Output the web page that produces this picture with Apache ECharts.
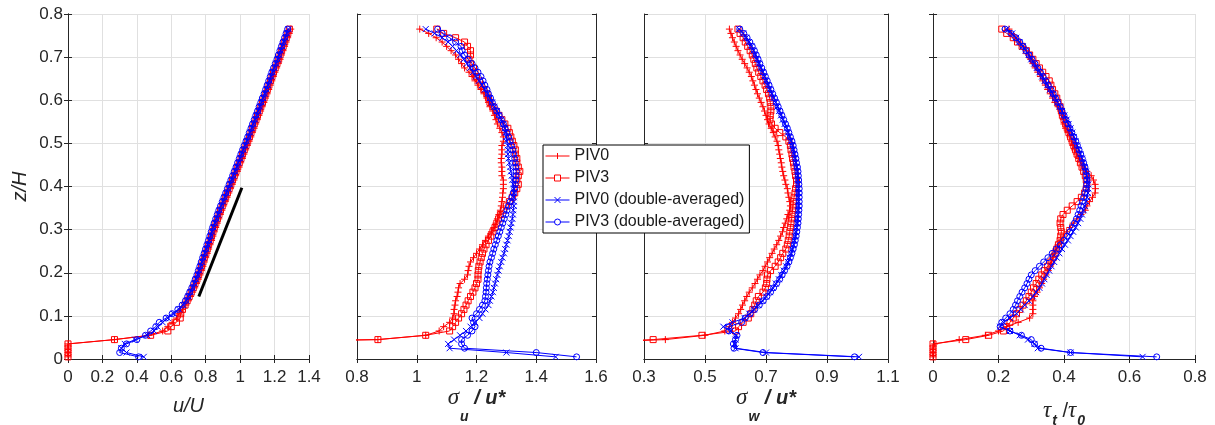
<!DOCTYPE html>
<html>
<head>
<meta charset="utf-8">
<script src="https://cdn.jsdelivr.net/npm/echarts@6/dist/echarts.min.js"></script>
<style>
  html, body { margin: 0; padding: 0; background: #fff; }
  #chart { width: 1215px; height: 425px; }
</style>
</head>
<body>
<div id="chart"></div>
<script>
// z/H levels of the profiles
const zH = [
  0.005, 0.015, 0.025, 0.035, 0.045, 0.055, 0.065, 0.075, 0.085, 0.095,
  0.105, 0.115, 0.125, 0.135, 0.145, 0.155, 0.165, 0.175, 0.185, 0.195,
  0.205, 0.215, 0.225, 0.235, 0.245, 0.255, 0.265, 0.275, 0.285, 0.295,
  0.305, 0.315, 0.325, 0.335, 0.345, 0.355, 0.365, 0.375, 0.385, 0.395,
  0.405, 0.415, 0.425, 0.435, 0.445, 0.455, 0.465, 0.475, 0.485, 0.495,
  0.505, 0.515, 0.525, 0.535, 0.545, 0.555, 0.565, 0.575, 0.585, 0.595,
  0.605, 0.615, 0.625, 0.635, 0.645, 0.655, 0.665, 0.675, 0.685, 0.695,
  0.705, 0.715, 0.725, 0.735, 0.745, 0.755, 0.765
];

const seriesNames = ['PIV0', 'PIV3', 'PIV0 (double-averaged)', 'PIV3 (double-averaged)'];

// u/U
const uPIV0 = [
  0, 0, 0, 0, 0.27, 0.47, 0.55, 0.58, 0.605, 0.63,
  0.645, 0.665, 0.685, 0.7, 0.712, 0.724, 0.736, 0.746, 0.757, 0.767,
  0.775, 0.784, 0.792, 0.8, 0.809, 0.817, 0.825, 0.834, 0.842, 0.85,
  0.858, 0.867, 0.876, 0.885, 0.894, 0.904, 0.914, 0.924, 0.934, 0.944,
  0.954, 0.964, 0.974, 0.984, 0.994, 1.003, 1.013, 1.022, 1.032, 1.042,
  1.052, 1.062, 1.071, 1.081, 1.09, 1.1, 1.109, 1.119, 1.128, 1.138,
  1.147, 1.157, 1.166, 1.175, 1.184, 1.193, 1.202, 1.212, 1.222, 1.232,
  1.24, 1.249, 1.258, 1.267, 1.276, 1.285, 1.294
];
const uPIV3 = [
  0, 0, 0, 0, 0.27, 0.48, 0.58, 0.6, 0.63, 0.652,
  0.655, 0.665, 0.68, 0.692, 0.704, 0.716, 0.728, 0.738, 0.749, 0.759,
  0.767, 0.776, 0.784, 0.792, 0.801, 0.809, 0.817, 0.826, 0.834, 0.842,
  0.85, 0.859, 0.868, 0.877, 0.886, 0.896, 0.906, 0.916, 0.926, 0.936,
  0.946, 0.956, 0.966, 0.976, 0.986, 0.995, 1.005, 1.014, 1.024, 1.034,
  1.044, 1.054, 1.063, 1.073, 1.082, 1.092, 1.101, 1.111, 1.12, 1.13,
  1.139, 1.149, 1.158, 1.167, 1.176, 1.185, 1.194, 1.204, 1.214, 1.224,
  1.232, 1.241, 1.25, 1.259, 1.268, 1.277, 1.286
];
const uDA0 = [
  0.44, 0.34, 0.31, 0.33, 0.39, 0.46, 0.5, 0.52, 0.55, 0.58,
  0.615, 0.645, 0.67, 0.688, 0.7, 0.712, 0.724, 0.734, 0.744, 0.754,
  0.762, 0.771, 0.779, 0.787, 0.796, 0.804, 0.812, 0.821, 0.829, 0.837,
  0.845, 0.854, 0.863, 0.872, 0.881, 0.891, 0.901, 0.911, 0.921, 0.931,
  0.941, 0.951, 0.961, 0.971, 0.981, 0.99, 1.0, 1.009, 1.019, 1.029,
  1.039, 1.049, 1.058, 1.068, 1.077, 1.087, 1.096, 1.106, 1.115, 1.125,
  1.134, 1.144, 1.153, 1.162, 1.171, 1.18, 1.189, 1.199, 1.209, 1.219,
  1.227, 1.236, 1.245, 1.254, 1.263, 1.272, 1.281
];
const uDA3 = [
  0.41, 0.3, 0.31, 0.34, 0.4, 0.45, 0.48, 0.51, 0.53, 0.57,
  0.605, 0.638, 0.663, 0.682, 0.695, 0.707, 0.719, 0.729, 0.739, 0.749,
  0.757, 0.766, 0.774, 0.782, 0.791, 0.799, 0.807, 0.816, 0.824, 0.832,
  0.84, 0.849, 0.858, 0.867, 0.876, 0.886, 0.896, 0.906, 0.916, 0.926,
  0.936, 0.946, 0.956, 0.966, 0.976, 0.985, 0.995, 1.004, 1.014, 1.024,
  1.034, 1.044, 1.053, 1.063, 1.072, 1.082, 1.091, 1.101, 1.11, 1.12,
  1.129, 1.139, 1.148, 1.157, 1.166, 1.175, 1.184, 1.194, 1.204, 1.214,
  1.222, 1.231, 1.24, 1.249, 1.258, 1.267, 1.276
];
// black reference line in the u/U panel
const fitU = [0.76, 1.01];
const fitZ = [0.145, 0.397];

// sigma_u / u*
const suPIV0 = [
  0, 0, 0, 0, 0.87, 1.03, 1.075, 1.09, 1.11, 1.12,
  1.125, 1.125, 1.128, 1.13, 1.135, 1.138, 1.14, 1.145, 1.16, 1.17,
  1.172, 1.175, 1.18, 1.19, 1.2, 1.21, 1.22, 1.23, 1.24, 1.25,
  1.258, 1.265, 1.27, 1.275, 1.28, 1.283, 1.285, 1.287, 1.288, 1.29,
  1.29, 1.29, 1.285, 1.285, 1.285, 1.283, 1.283, 1.285, 1.285, 1.285,
  1.29, 1.29, 1.285, 1.278, 1.27, 1.265, 1.26, 1.255, 1.245, 1.24,
  1.235, 1.225, 1.215, 1.205, 1.195, 1.185, 1.175, 1.16, 1.15, 1.14,
  1.13, 1.115, 1.1, 1.085, 1.065, 1.04, 1.01
];
const suPIV3 = [
  0, 0, 0, 0, 0.87, 1.03, 1.11, 1.12, 1.13, 1.14,
  1.15, 1.158, 1.165, 1.172, 1.18, 1.188, 1.195, 1.2, 1.205, 1.205,
  1.206, 1.208, 1.212, 1.216, 1.22, 1.225, 1.232, 1.24, 1.248, 1.255,
  1.262, 1.268, 1.274, 1.28, 1.29, 1.3, 1.31, 1.32, 1.328, 1.335,
  1.34, 1.335, 1.34, 1.345, 1.34, 1.335, 1.335, 1.33, 1.33, 1.325,
  1.32, 1.315, 1.31, 1.305, 1.295, 1.285, 1.275, 1.265, 1.255, 1.245,
  1.24, 1.235, 1.225, 1.215, 1.21, 1.2, 1.195, 1.19, 1.18, 1.175,
  1.18, 1.18, 1.17, 1.16, 1.13, 1.09, 1.067
];
const suDA0 = [
  1.465, 1.3, 1.11, 1.105, 1.125, 1.145, 1.165, 1.18, 1.195, 1.21,
  1.22, 1.23, 1.24, 1.245, 1.25, 1.255, 1.258, 1.262, 1.266, 1.27,
  1.274, 1.278, 1.283, 1.287, 1.292, 1.296, 1.3, 1.304, 1.308, 1.311,
  1.314, 1.317, 1.32, 1.322, 1.323, 1.325, 1.325, 1.325, 1.325, 1.325,
  1.323, 1.32, 1.318, 1.315, 1.313, 1.31, 1.307, 1.305, 1.305, 1.305,
  1.3, 1.3, 1.298, 1.295, 1.29, 1.283, 1.275, 1.268, 1.26, 1.252,
  1.245, 1.237, 1.228, 1.218, 1.208, 1.198, 1.188, 1.178, 1.168, 1.157,
  1.146, 1.133, 1.12, 1.105, 1.085, 1.06, 1.03
];
const suDA3 = [
  1.535, 1.4, 1.16, 1.15, 1.15, 1.17, 1.185, 1.195, 1.19, 1.185,
  1.2, 1.21, 1.22, 1.228, 1.23, 1.232, 1.233, 1.234, 1.236, 1.238,
  1.24, 1.242, 1.245, 1.25, 1.254, 1.258, 1.263, 1.268, 1.273, 1.278,
  1.283, 1.288, 1.293, 1.298, 1.302, 1.307, 1.313, 1.318, 1.323, 1.328,
  1.33, 1.332, 1.333, 1.333, 1.332, 1.33, 1.328, 1.325, 1.322, 1.318,
  1.313, 1.308, 1.302, 1.296, 1.29, 1.283, 1.276, 1.268, 1.26, 1.253,
  1.247, 1.24, 1.235, 1.228, 1.222, 1.215, 1.205, 1.195, 1.185, 1.172,
  1.16, 1.152, 1.148, 1.13, 1.11, 1.085, 1.07
];

// sigma_w / u*
const swPIV0 = [
  0, 0, 0, 0, 0.37, 0.5, 0.565, 0.58, 0.59, 0.6,
  0.61, 0.617, 0.623, 0.63, 0.637, 0.645, 0.655, 0.664, 0.672, 0.68,
  0.69, 0.697, 0.705, 0.712, 0.72, 0.727, 0.735, 0.742, 0.748, 0.754,
  0.758, 0.763, 0.768, 0.772, 0.778, 0.78, 0.778, 0.775, 0.772, 0.77,
  0.765, 0.762, 0.758, 0.755, 0.752, 0.75, 0.747, 0.745, 0.742, 0.74,
  0.736, 0.73, 0.724, 0.717, 0.71, 0.705, 0.7, 0.695, 0.69, 0.684,
  0.678, 0.672, 0.667, 0.662, 0.657, 0.652, 0.645, 0.638, 0.63, 0.622,
  0.615, 0.608, 0.602, 0.596, 0.59, 0.585, 0.58
];
const swPIV3 = [
  0, 0, 0, 0, 0.33, 0.49, 0.6, 0.61, 0.625, 0.642,
  0.65, 0.657, 0.663, 0.668, 0.675, 0.69, 0.698, 0.702, 0.703, 0.705,
  0.715, 0.73, 0.74, 0.748, 0.755, 0.765, 0.77, 0.773, 0.776, 0.778,
  0.78, 0.782, 0.784, 0.785, 0.787, 0.788, 0.79, 0.792, 0.795, 0.797,
  0.8, 0.8, 0.797, 0.795, 0.792, 0.79, 0.787, 0.785, 0.782, 0.78,
  0.775, 0.765, 0.745, 0.73, 0.718, 0.713, 0.714, 0.716, 0.716, 0.714,
  0.712, 0.708, 0.702, 0.697, 0.69, 0.683, 0.676, 0.67, 0.665, 0.66,
  0.655, 0.648, 0.64, 0.632, 0.625, 0.615, 0.608
];
const swDA0 = [
  1.005, 0.7, 0.6, 0.598, 0.6, 0.602, 0.585, 0.56, 0.59, 0.63,
  0.645, 0.66, 0.675, 0.688, 0.7, 0.712, 0.722, 0.732, 0.742, 0.75,
  0.758, 0.766, 0.772, 0.777, 0.782, 0.786, 0.79, 0.793, 0.796, 0.798,
  0.8, 0.802, 0.803, 0.804, 0.805, 0.806, 0.806, 0.806, 0.806, 0.806,
  0.805, 0.804, 0.803, 0.802, 0.8, 0.797, 0.795, 0.792, 0.789, 0.786,
  0.782, 0.777, 0.772, 0.767, 0.761, 0.755, 0.749, 0.743, 0.737, 0.731,
  0.725, 0.719, 0.713, 0.707, 0.701, 0.695, 0.689, 0.683, 0.677, 0.671,
  0.665, 0.659, 0.652, 0.644, 0.635, 0.625, 0.612
];
const swDA3 = [
  0.99, 0.69, 0.595, 0.593, 0.6, 0.605, 0.578, 0.578, 0.62, 0.632,
  0.648, 0.663, 0.678, 0.691, 0.703, 0.715, 0.725, 0.735, 0.745, 0.753,
  0.761, 0.769, 0.775, 0.78, 0.785, 0.789, 0.793, 0.796, 0.799, 0.801,
  0.803, 0.805, 0.806, 0.807, 0.808, 0.809, 0.809, 0.809, 0.809, 0.809,
  0.808, 0.807, 0.806, 0.805, 0.803, 0.8, 0.798, 0.795, 0.792, 0.789,
  0.785, 0.78, 0.775, 0.77, 0.764, 0.758, 0.752, 0.746, 0.74, 0.734,
  0.728, 0.722, 0.716, 0.71, 0.704, 0.698, 0.692, 0.686, 0.68, 0.674,
  0.668, 0.662, 0.655, 0.647, 0.638, 0.627, 0.614
];

// tau_t / tau_0
const tPIV0 = [
  0, 0, 0, 0.005, 0.08, 0.16, 0.2, 0.225, 0.26, 0.295,
  0.305, 0.305, 0.305, 0.305, 0.31, 0.318, 0.325, 0.332, 0.338, 0.345,
  0.352, 0.358, 0.362, 0.366, 0.37, 0.375, 0.382, 0.39, 0.398, 0.408,
  0.418, 0.428, 0.44, 0.452, 0.465, 0.47, 0.478, 0.487, 0.495, 0.496,
  0.495, 0.49, 0.483, 0.47, 0.458, 0.452, 0.445, 0.438, 0.432, 0.427,
  0.423, 0.418, 0.412, 0.405, 0.4, 0.398, 0.395, 0.39, 0.382, 0.372,
  0.365, 0.358, 0.35, 0.343, 0.335, 0.328, 0.32, 0.312, 0.305, 0.298,
  0.292, 0.285, 0.275, 0.262, 0.25, 0.24, 0.232
];
const tPIV3 = [
  0, 0, 0, 0, 0.1, 0.17, 0.215, 0.225, 0.235, 0.245,
  0.255, 0.265, 0.275, 0.285, 0.293, 0.3, 0.307, 0.315, 0.323, 0.332,
  0.34, 0.35, 0.36, 0.367, 0.373, 0.378, 0.383, 0.388, 0.39, 0.392,
  0.39, 0.388, 0.39, 0.397, 0.41, 0.425, 0.44, 0.453, 0.463, 0.468,
  0.47, 0.468, 0.465, 0.46, 0.455, 0.45, 0.445, 0.44, 0.435, 0.43,
  0.425, 0.42, 0.415, 0.41, 0.405, 0.4, 0.395, 0.392, 0.388, 0.382,
  0.378, 0.372, 0.365, 0.36, 0.355, 0.345, 0.335, 0.325, 0.315, 0.305,
  0.295, 0.285, 0.272, 0.258, 0.245, 0.225, 0.21
];
const tDA0 = [
  0.64, 0.42, 0.32, 0.31, 0.29, 0.265, 0.235, 0.205, 0.215, 0.235,
  0.255, 0.268, 0.28, 0.293, 0.305, 0.315, 0.325, 0.333, 0.34, 0.347,
  0.355, 0.362, 0.37, 0.378, 0.386, 0.394, 0.403, 0.412, 0.42, 0.428,
  0.436, 0.443, 0.45, 0.455, 0.46, 0.464, 0.468, 0.471, 0.473, 0.474,
  0.474, 0.472, 0.47, 0.467, 0.463, 0.459, 0.455, 0.45, 0.445, 0.44,
  0.435, 0.43, 0.425, 0.42, 0.414, 0.408, 0.401, 0.394, 0.387, 0.38,
  0.373, 0.365, 0.357, 0.349, 0.341, 0.333, 0.325, 0.317, 0.309, 0.3,
  0.292, 0.283, 0.274, 0.264, 0.254, 0.242, 0.225
];
const tDA3 = [
  0.683, 0.42, 0.33, 0.31, 0.3, 0.27, 0.235, 0.205, 0.21, 0.222,
  0.235, 0.245, 0.252, 0.258, 0.265, 0.272, 0.28, 0.287, 0.293, 0.3,
  0.312, 0.325, 0.338, 0.351, 0.364, 0.377, 0.389, 0.4, 0.41, 0.418,
  0.425, 0.432, 0.438, 0.443, 0.448, 0.452, 0.456, 0.46, 0.464, 0.467,
  0.469, 0.47, 0.469, 0.467, 0.464, 0.46, 0.456, 0.451, 0.446, 0.441,
  0.436, 0.43, 0.424, 0.418, 0.412, 0.406, 0.4, 0.394, 0.388, 0.381,
  0.374, 0.367, 0.36, 0.352, 0.344, 0.336, 0.328, 0.32, 0.311, 0.302,
  0.293, 0.284, 0.275, 0.265, 0.253, 0.238, 0.22
];

const FONT = 'Liberation Sans';
const INK = '#262626';
const RED = '#ff0000';
const BLUE = '#0000ff';
const PLUS = 'path://M5,0L5,10M0,5L10,5';
const CROSS = 'path://M0,0L10,10M10,0L0,10';
// marker per series + the legend glyph (line through the marker)
const marks = [
  { color: RED, symbol: PLUS, size: 7, icon: 'path://M0,3L24,3M12,0L12,6' },
  { color: RED, symbol: 'rect', size: 6, icon: 'path://M0,3L9,3M9,0L15,0L15,6L9,6ZM15,3L24,3' },
  { color: BLUE, symbol: CROSS, size: 6, icon: 'path://M0,3L24,3M9,0L15,6M15,0L9,6' },
  { color: BLUE, symbol: 'circle', size: 6, icon: 'path://M0,3L9,3M15,3A3,3,0,1,1,9,3A3,3,0,1,1,15,3M15,3L24,3' }
];

// axis titles with subscripts (S: deep subscript for sigma, s: shallow for tau)
const nameRich = {
  i: { fontFamily: FONT, fontStyle: 'italic', fontSize: 20, color: INK },
  g: { fontFamily: 'Liberation Serif', fontStyle: 'italic', fontSize: 23, color: INK },
  S: { fontFamily: FONT, fontStyle: 'italic', fontWeight: 'bold', fontSize: 14, color: INK, padding: [38, 0, 0, 1] },
  s: { fontFamily: FONT, fontStyle: 'italic', fontWeight: 'bold', fontSize: 14, color: INK, padding: [20, 0, 0, 1] },
  b: { fontFamily: FONT, fontStyle: 'italic', fontWeight: 'bold', fontSize: 20, color: INK },
  n: { fontFamily: FONT, fontSize: 20, color: INK }
};

const panels = [
  { left: 68, width: 241, min: 0, max: 1.4, name: '{i|u/U}', gap: 37, cols: [uPIV0, uPIV3, uDA0, uDA3] },
  { left: 357, width: 239, min: 0.8, max: 1.6, name: '{g|σ}{S|u}{b| / u*}', gap: 13, cols: [suPIV0, suPIV3, suDA0, suDA3] },
  { left: 644, width: 244, min: 0.3, max: 1.1, name: '{g|σ}{S|w}{b| / u*}', gap: 13, cols: [swPIV0, swPIV3, swDA0, swDA3] },
  { left: 933, width: 262, min: 0, max: 0.8, name: '{g|τ}{s|t}{n| /}{g|τ}{s|0}', gap: 35, cols: [tPIV0, tPIV3, tDA0, tDA3] }
];

const grid = [], xAxis = [], yAxis = [], series = [];
const tickStyle = { show: true, inside: true, length: 4, lineStyle: { color: INK } };
const lineStyle = { show: true, lineStyle: { color: INK, width: 1 } };
const splitStyle = { show: true, lineStyle: { color: '#e0e0e0', width: 1 } };
const labelStyle = { fontFamily: FONT, fontSize: 17, color: INK };

panels.forEach((p, gi) => {
  grid.push({ left: p.left, width: p.width, top: 14, height: 345, outerBoundsMode: 'none', containLabel: false });
  xAxis.push({
    type: 'value', gridIndex: gi, position: 'bottom', min: p.min, max: p.max, interval: 0.2,
    axisLine: lineStyle, axisTick: tickStyle, splitLine: splitStyle,
    axisLabel: Object.assign({ margin: 10 }, labelStyle),
    name: p.name, nameLocation: 'middle', nameGap: p.gap, nameMoveOverlap: false,
    nameTextStyle: { rich: nameRich }
  });
  xAxis.push({
    type: 'value', gridIndex: gi, position: 'top', min: p.min, max: p.max, interval: 0.2,
    axisLine: lineStyle, axisTick: tickStyle, splitLine: { show: false }, axisLabel: { show: false }
  });
  yAxis.push({
    type: 'value', gridIndex: gi, position: 'left', min: 0, max: 0.8, interval: 0.1,
    axisLine: lineStyle, axisTick: tickStyle, splitLine: splitStyle,
    axisLabel: Object.assign({ show: gi === 0, margin: 5 }, labelStyle),
    name: gi === 0 ? 'z/H' : '', nameLocation: 'middle', nameGap: 38, nameMoveOverlap: false,
    nameTextStyle: { fontFamily: FONT, fontStyle: 'italic', fontSize: 20, color: INK }
  });
  yAxis.push({
    type: 'value', gridIndex: gi, position: 'right', min: 0, max: 0.8, interval: 0.1,
    axisLine: lineStyle, axisTick: tickStyle, splitLine: { show: false }, axisLabel: { show: false }
  });

  p.cols.forEach((vals, k) => {
    const m = marks[k];
    series.push({
      name: seriesNames[k], type: 'line', xAxisIndex: gi * 2, yAxisIndex: gi * 2,
      data: vals.map((v, j) => [v, zH[j]]),
      symbol: m.symbol, symbolSize: m.size,
      itemStyle: { color: 'transparent', borderColor: m.color, borderWidth: 1 },
      lineStyle: { color: m.color, width: 1 },
      z: 2 + k
    });
  });
});

// black line in first panel
series.push({
  type: 'line', xAxisIndex: 0, yAxisIndex: 0,
  data: fitU.map((v, j) => [v, fitZ[j]]),
  symbol: 'none', lineStyle: { color: '#000', width: 3 }, z: 8
});

const chart = echarts.init(document.getElementById('chart'), null, { renderer: 'canvas' });
chart.setOption({
  animation: false,
  backgroundColor: '#fff',
  grid, xAxis, yAxis, series,
  legend: {
    data: seriesNames.map((n, k) => ({
      name: n,
      icon: marks[k].icon,
      itemStyle: { color: 'transparent', borderColor: marks[k].color, borderWidth: 1 }
    })),
    orient: 'vertical', left: 543, top: 145,
    itemWidth: 24, itemHeight: 6, itemGap: 6,
    padding: [3, 5, 3, 2],
    backgroundColor: '#fff', borderColor: '#000', borderWidth: 1, borderRadius: 0,
    textStyle: { fontFamily: FONT, fontSize: 16, color: '#1a1a1a' },
    selectedMode: false
  }
});
</script>
</body>
</html>
